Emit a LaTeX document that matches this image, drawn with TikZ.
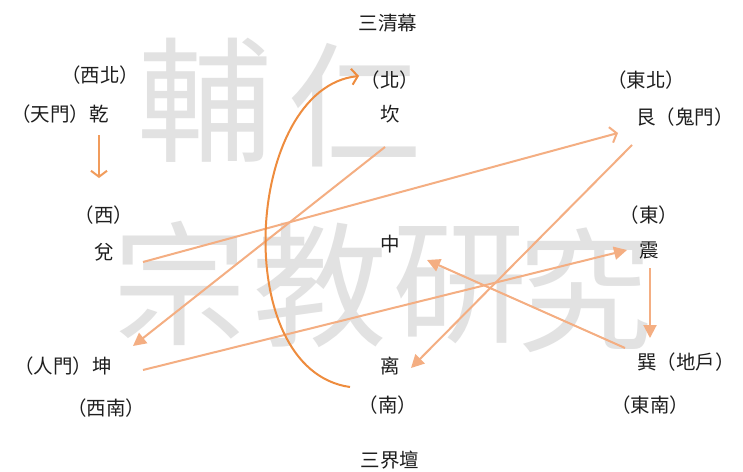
\documentclass[tikz,border=0pt]{standalone}
\usepackage{fontspec}
\newfontfamily\cjk{Noto Sans CJK TC}
\usetikzlibrary{arrows.meta}
\definecolor{peach}{RGB}{244,174,130}
\definecolor{deeporange}{RGB}{238,140,62}
\definecolor{midorange}{RGB}{241,156,92}
\definecolor{wmgray}{RGB}{226,226,226}
\definecolor{txt}{RGB}{30,30,30}
\tikzset{
  lbl/.style={inner sep=0pt, text=txt, font=\cjk\fontsize{19.5}{21}\selectfont},
  wm/.style={inner sep=0pt, text=wmgray, font=\cjk\fontsize{135}{140}\selectfont},
  tri/.style={draw=peach, line width=2pt, -{Triangle[length=13pt,width=13pt]}},
  barb/.style={draw=peach, line width=2pt, -{Straight Barb[length=6pt,width=16pt,line width=2pt]}},
}
\begin{document}
\begin{tikzpicture}[x=1pt,y=-1pt]
\useasboundingbox (0,0) rectangle (743,471);
\fill[white] (0,0) rectangle (743,471);
% watermark
\node[wm] (wm1) at (205,100) {輔};
\node[wm] (wm2) at (355,105) {仁};
\node[wm] (wm3) at (180,283) {宗};
\node[wm] (wm4) at (320,285) {教};
\node[wm] (wm5) at (460,285) {研};
\node[wm] (wm6) at (585,290) {究};
% labels
\node[lbl] (top) at (388,23) {三清幕};
\node[lbl] (bei) at (390,80) {（北）};
\node[lbl] (kan) at (390,114) {坎};
\node[lbl] (xibei) at (100,75) {（西北）};
\node[lbl] (qian) at (60,114) {（天門）乾};
\node[lbl] (dongbei) at (646,80) {（東北）};
\node[lbl] (gen) at (685,117) {艮（鬼門）};
\node[lbl] (xi) at (104,215) {（西）};
\node[lbl] (dui) at (104,252) {兌};
\node[lbl] (zhong) at (390,244) {中};
\node[lbl] (dong) at (649,215) {（東）};
\node[lbl] (zhen) at (649,251) {震};
\node[lbl] (kun) at (63,366) {（人門）坤};
\node[lbl] (xinan) at (106,408) {（西南）};
\node[lbl] (li) at (390,366) {离};
\node[lbl] (nan) at (388,405) {（南）};
\node[lbl] (xun) at (686,362) {巽（地戶）};
\node[lbl] (dongnan) at (650,405) {（東南）};
\node[lbl] (bottom) at (390,460) {三界壇};
% connector end points
\coordinate (qianS) at (99,135);
\coordinate (duiN) at (99,178);
\coordinate (duiE) at (143,262);
\coordinate (genW) at (618,133);
\coordinate (kanS) at (385,147);
\coordinate (kunNE) at (133,346);
\coordinate (genS) at (632,145);
\coordinate (liE) at (411,368);
\coordinate (kunE) at (143,370);
\coordinate (zhenW) at (627,250);
\coordinate (xunW) at (625,348);
\coordinate (zhongE) at (427,260);
\coordinate (zhenS) at (650,268);
\coordinate (xunN) at (650,338);
\coordinate (liW) at (350,387);
\coordinate (beiW) at (359,76);
% connectors
\draw[barb, draw=midorange] (qianS) -- (duiN);
\draw[barb] (duiE) -- (genW);
\draw[tri] (kanS) -- (kunNE);
\draw[tri] (genS) -- (liE);
\draw[tri] (kunE) -- (zhenW);
\draw[tri] (xunW) -- (zhongE);
\draw[tri] (zhenS) -- (xunN);
\draw[barb, draw=deeporange] (liW) .. controls (228,370) and (245,88) .. (beiW);
\end{tikzpicture}
\end{document}
